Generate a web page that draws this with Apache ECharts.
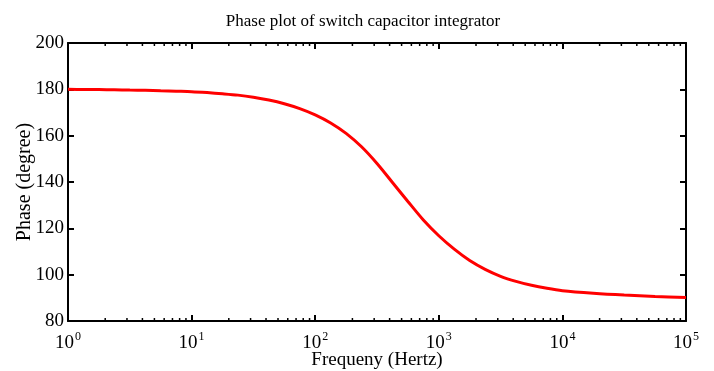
<!DOCTYPE html>
<html>
<head>
<meta charset="utf-8">
<script src="https://cdn.jsdelivr.net/npm/echarts@6/dist/echarts.min.js"></script>
<style>
html,body{margin:0;padding:0;background:#fff;}
#main{width:714px;height:371px;}
</style>
</head>
<body>
<div id="main"></div>
<script>
// frequency (Hz) and phase (degree)
var freq = [1, 1.334, 1.778, 2.371, 3.162, 4.217, 5.623, 7.499,
    10, 13.34, 17.78, 23.71, 31.62, 42.17, 56.23, 74.99,
    100, 133.4, 177.8, 237.1, 316.2, 421.7, 562.3, 749.9,
    1000, 1334, 1778, 2371, 3162, 4217, 5623, 7499,
    10000, 17783, 31623, 56234, 100000];
var phase = [180.0, 179.95, 179.9, 179.8, 179.7, 179.6, 179.4, 179.2,
    179.0, 178.6, 178.1, 177.5, 176.6, 175.4, 173.8, 171.7,
    169.0, 165.5, 161.0, 155.2, 148.0, 139.8, 131.6, 123.6,
    116.8, 111.0, 106.1, 102.3, 99.3, 97.1, 95.4, 94.1,
    93.1, 92.0, 91.2, 90.6, 90.1];

var decades = [1, 10, 100, 1000, 10000, 100000];

// minor tick positions (2..9 in each decade)
var minorFreq = [];
for (var d = 0; d < decades.length - 1; d++) {
    for (var k = 2; k <= 9; k++) {
        minorFreq.push(decades[d] * k);
    }
}

var fontName = 'Liberation Serif';

var lineData = [];
for (var i = 0; i < freq.length; i++) {
    lineData.push([freq[i], phase[i]]);
}

var myChart = echarts.init(document.getElementById('main'));

var option = {
    backgroundColor: '#fff',
    animation: false,
    title: {
        text: 'Phase plot of switch capacitor integrator',
        left: 358,
        top: 8,
        textAlign: 'center',
        textStyle: {fontFamily: fontName, fontSize: 17, fontWeight: 'normal', color: '#000'}
    },
    grid: {left: 68, right: 28, top: 43, bottom: 50, outerBoundsMode: 'none'},
    xAxis: [{
        type: 'log',
        logBase: 10,
        min: 1,
        max: 100000,
        position: 'bottom',
        name: 'Frequeny (Hertz)',
        nameLocation: 'middle',
        nameGap: 30,
        nameMoveOverlap: false,
        nameTextStyle: {fontFamily: fontName, fontSize: 19, color: '#000'},
        axisLine: {lineStyle: {color: '#000', width: 2}},
        axisTick: {inside: true, length: 6, lineStyle: {color: '#000', width: 2}},
        splitLine: {show: false},
        axisLabel: {
            margin: 10,
            formatter: function (v) {
                var e = Math.round(Math.log(v) / Math.LN10);
                return '{b|10}{s|' + e + '}';
            },
            rich: {
                b: {fontFamily: fontName, fontSize: 19, color: '#000'},
                s: {fontFamily: fontName, fontSize: 12, color: '#000', padding: [0, 0, 12, 1]}
            }
        }
    }, {
        type: 'log',
        logBase: 10,
        min: 1,
        max: 100000,
        position: 'top',
        axisLine: {lineStyle: {color: '#000', width: 2}},
        axisTick: {inside: true, length: 6, lineStyle: {color: '#000', width: 2}},
        axisLabel: {show: false},
        splitLine: {show: false}
    }],
    yAxis: [{
        type: 'value',
        min: 80,
        max: 200,
        interval: 20,
        position: 'left',
        name: 'Phase (degree)',
        nameLocation: 'middle',
        nameGap: 33,
        nameMoveOverlap: false,
        nameTextStyle: {fontFamily: fontName, fontSize: 20, color: '#000'},
        axisLine: {show: true, lineStyle: {color: '#000', width: 2}},
        axisTick: {show: true, inside: true, length: 6, lineStyle: {color: '#000', width: 2}},
        axisLabel: {margin: 4, fontFamily: fontName, fontSize: 19, color: '#000'},
        splitLine: {show: false}
    }, {
        type: 'value',
        min: 80,
        max: 200,
        interval: 20,
        position: 'right',
        axisLine: {show: true, lineStyle: {color: '#000', width: 2}},
        axisTick: {show: true, inside: true, length: 6, lineStyle: {color: '#000', width: 2}},
        axisLabel: {show: false},
        splitLine: {show: false}
    }],
    series: [{
        type: 'custom',
        silent: true,
        clip: false,
        z: 1,
        data: minorFreq.map(function (v) { return [v, 80]; }),
        renderItem: function (params, api) {
            var b = api.coord([api.value(0), 80]);
            var t = api.coord([api.value(0), 200]);
            return {
                type: 'group',
                children: [{
                    type: 'line',
                    shape: {x1: b[0], y1: b[1], x2: b[0], y2: b[1] - 3},
                    style: {stroke: '#000', lineWidth: 1.5}
                }, {
                    type: 'line',
                    shape: {x1: t[0], y1: t[1], x2: t[0], y2: t[1] + 3},
                    style: {stroke: '#000', lineWidth: 1.5}
                }]
            };
        }
    }, {
        type: 'line',
        data: lineData,
        smooth: 0.3,
        showSymbol: false,
        z: 3,
        lineStyle: {color: '#ff0000', width: 3}
    }]
};

myChart.setOption(option);
</script>
</body>
</html>
